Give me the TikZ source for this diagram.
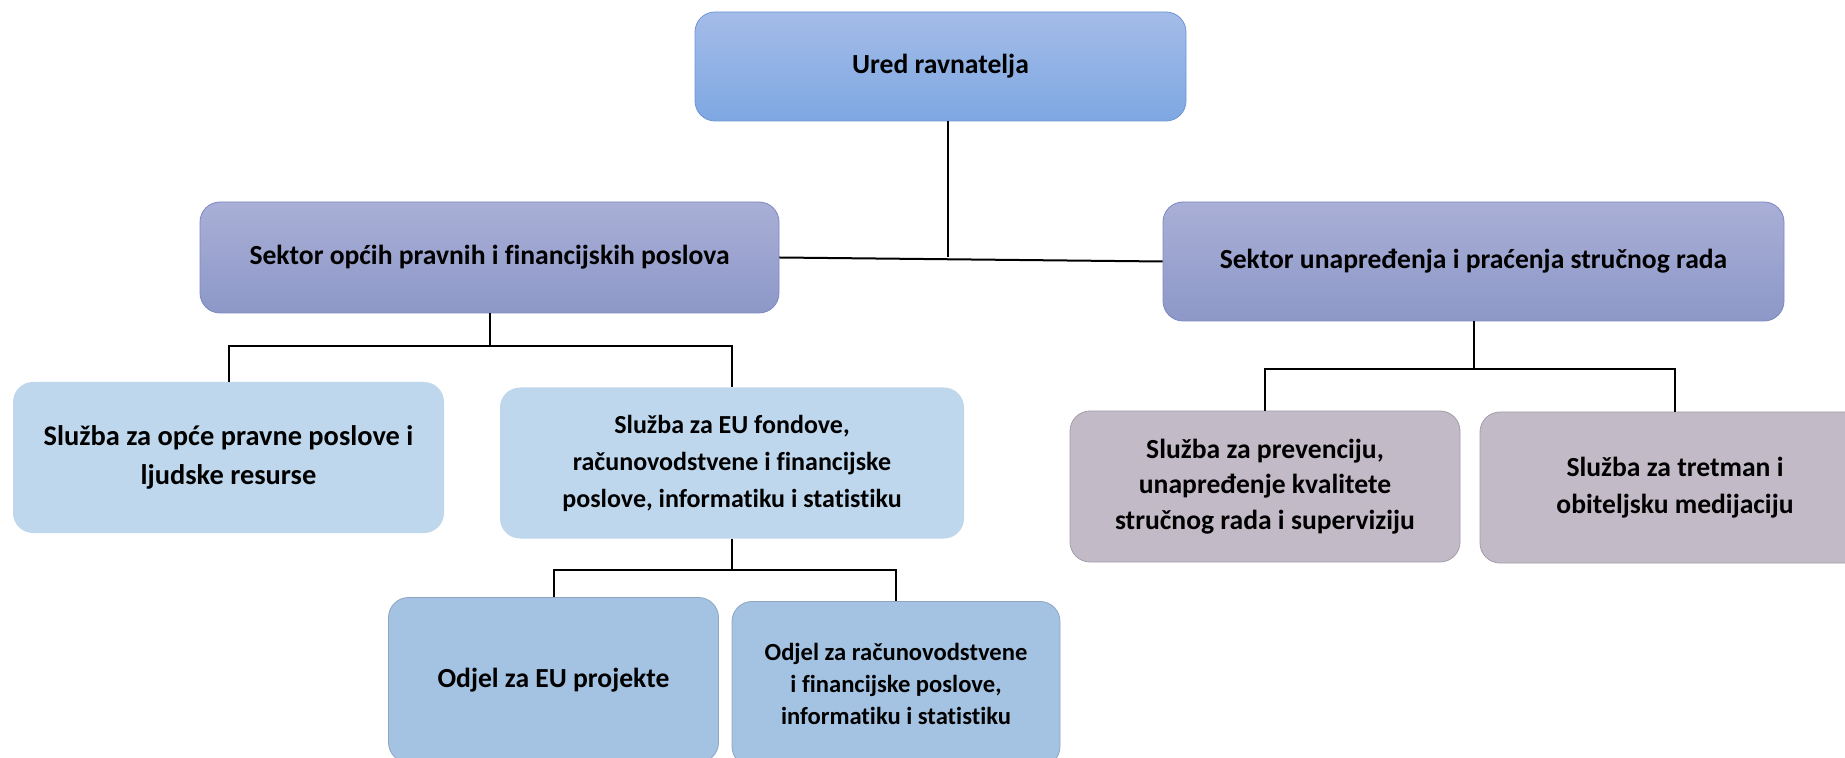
\documentclass[tikz,border=0pt]{standalone}
\usepackage{fontspec}
\setmainfont{Carlito}[Ligatures=NoCommon]

\definecolor{uredtop}{RGB}{164,188,232}
\definecolor{uredbot}{RGB}{126,167,226}
\definecolor{uredline}{RGB}{110,150,214}
\definecolor{sektortop}{RGB}{169,175,214}
\definecolor{sektorbot}{RGB}{141,152,200}
\definecolor{sektorline}{RGB}{124,136,192}
\definecolor{sluzba}{RGB}{190,215,237}
\definecolor{odjel}{RGB}{164,195,226}
\definecolor{odjelline}{RGB}{141,165,194}
\definecolor{mauve}{RGB}{195,186,199}
\definecolor{mauveline}{RGB}{166,157,170}

\begin{document}
\begin{tikzpicture}[x=0.5pt,y=-0.5pt,
    box/.style={rounded corners=10pt,align=center,inner sep=0pt,
        font=\bfseries\fontsize{13.8}{18.5}\selectfont},
    ured/.style={box,draw=uredline,top color=uredtop,bottom color=uredbot},
    sektor/.style={box,draw=sektorline,top color=sektortop,bottom color=sektorbot},
    sluzba/.style={box,fill=sluzba,minimum width=215.5pt,minimum height=75.5pt},
    odjel/.style={box,draw=odjelline,fill=odjel,minimum width=165pt,minimum height=82.5pt},
    tretman/.style={box,draw=mauveline,fill=mauve,minimum width=195pt,minimum height=75.5pt},
    conn/.style={line width=1pt,black}]
    \useasboundingbox (0,0) rectangle (1845,758);
    \clip (0,0) rectangle (1845,758);

    \node[ured,minimum width=245.5pt,minimum height=54.5pt] (U) at (940.5,66.5) {Ured ravnatelja};
    \node[sektor,minimum width=289.5pt,minimum height=55.5pt] (SL) at (489.5,257.5)
        {Sektor općih pravnih i financijskih poslova};
    \node[sektor,minimum width=310.5pt,minimum height=59.5pt] (SR) at (1473.5,261.5)
        {Sektor unapređenja i praćenja stručnog rada};

    \node[sluzba,font=\bfseries\fontsize{14.2}{19.5}\selectfont] (SA) at (228.5,457.5)
        {Služba za opće pravne poslove i\\ljudske resurse};
    \node[sluzba,minimum width=232pt,font=\bfseries\fontsize{13}{18.5}\selectfont] (SB) at (732,463)
        {Služba za EU fondove,\\računovodstvene i financijske\\poslove, informatiku i statistiku};
    \node[tretman,font=\bfseries\fontsize{13.8}{17.6}\selectfont] (SE) at (1265,486.5)
        {Služba za prevenciju,\\unapređenje kvalitete\\stručnog rada i superviziju};
    \node[tretman] (SF) at (1675,487.5) {Služba za tretman i\\obiteljsku medijaciju};

    \node[odjel] (OC) at (553.5,680) {Odjel za EU projekte};
    \node[odjel,minimum width=164pt,font=\bfseries\fontsize{12.3}{16}\selectfont] (OD) at (896,684)
        {Odjel za računovodstvene\\i financijske poslove,\\informatiku i statistiku};

    \draw[conn] ([xshift=3.5pt]U.south) -- ([xshift=3.5pt]U.south |- SL.east);
    \draw[conn] (SL.east) -- (SR.west);
    \foreach \p/\c/\d in {SL/SA/33, SL/SB/33, SR/SE/48, SR/SF/48, SB/OC/31, SB/OD/31}{
        \draw[conn] (\p.south) -- ++(0,\d) -| (\c.north);
    }
\end{tikzpicture}
\end{document}
